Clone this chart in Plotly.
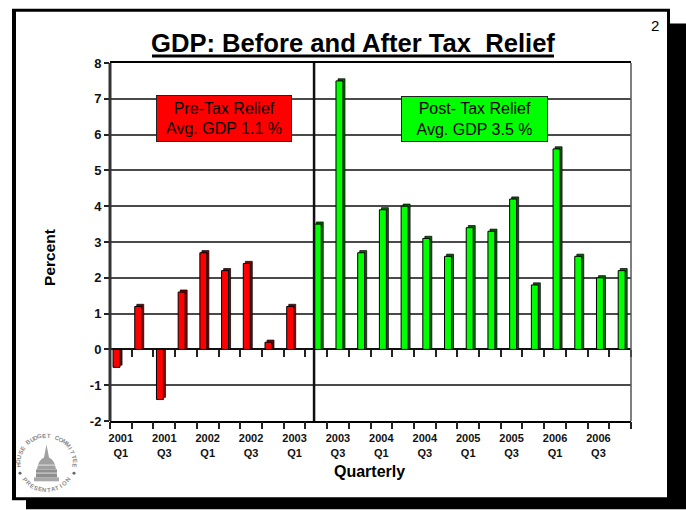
import math
import plotly.graph_objects as go

# ---- data ----
quarters = ["2001 Q1","2001 Q2","2001 Q3","2001 Q4","2002 Q1","2002 Q2","2002 Q3","2002 Q4",
            "2003 Q1","2003 Q2","2003 Q3","2003 Q4","2004 Q1","2004 Q2","2004 Q3","2004 Q4",
            "2005 Q1","2005 Q2","2005 Q3","2005 Q4","2006 Q1","2006 Q2","2006 Q3","2006 Q4"]
pre_tax = [-0.5, 1.2, -1.4, 1.6, 2.7, 2.2, 2.4, 0.2, 1.2]
post_tax = [3.5, 7.5, 2.7, 3.9, 4.0, 3.1, 2.6, 3.4, 3.3, 4.2, 1.8, 5.6, 2.6, 2.0, 2.2]
tick_labels = ["2001<br>Q1","2001<br>Q3","2002<br>Q1","2002<br>Q3","2003<br>Q1","2003<br>Q3",
               "2004<br>Q1","2004<br>Q3","2005<br>Q1","2005<br>Q3","2006<br>Q1","2006<br>Q3"]
y_ticks = [-2, -1, 0, 1, 2, 3, 4, 5, 6, 7, 8]
y_labels = ["-2", "-1", "0", "1", "2", "3", "4", "5", "6", "7", "8"]

W, H = 686, 510
L, R, T, B = 110, 631, 62.5, 421.5
FONT = "Liberation Sans"
px = lambda x: (x - L) / (R - L)
py = lambda y: (B - y) / (B - T)

x_pre = list(range(len(pre_tax)))
x_post = list(range(len(pre_tax), len(quarters)))
BW, DEPTH_X, DEPTH_Y = 0.32, 0.095, 0.06


def bars(x, v, front, side, off):
    return [
        go.Bar(x=x, y=[a + DEPTH_Y for a in v], width=BW, offset=off + DEPTH_X,
               marker=dict(color=side, line=dict(color="black", width=0.7)),
               hoverinfo="skip", showlegend=False),
        go.Bar(x=x, y=v, width=BW, offset=off,
               marker=dict(color=front, line=dict(color="black", width=1)),
               customdata=[quarters[i] for i in x], name="",
               hovertemplate="%{customdata}: %{y}%", showlegend=False),
    ]


fig = go.Figure()
for t in bars(x_pre, pre_tax, "#ff0000", "#7c0000", -BW - 0.04) + bars(x_post, post_tax, "#00ff00", "#006400", -0.09):
    fig.add_trace(t)
for ax in ("x2", "x3"):
    fig.add_trace(go.Scatter(x=[None], y=[None], xaxis=ax, showlegend=False, hoverinfo="skip"))

boundaries = [i - 0.5 for i in range(len(quarters) + 1)]
xr = [-0.5, len(quarters) - 0.5]
tick_axis = dict(range=xr, overlaying="x", anchor="free", tickmode="array", tickvals=boundaries,
                 ticktext=[""] * len(boundaries), ticks="outside", ticklen=7, tickwidth=1.5,
                 tickcolor="#222", showgrid=False, zeroline=False, showline=False, side="bottom")


def conv(path):
    out, isx = [], True
    for t in path.split():
        if t.isalpha():
            out.append(t)
            isx = True
        else:
            out.append(f"{px(float(t)):.4f}" if isx else f"{py(float(t)):.4f}")
            isx = not isx
    return " ".join(out)


shapes = [
    dict(type="rect", xref="paper", yref="paper", x0=px(26), x1=px(686), y0=py(510), y1=py(23),
         fillcolor="black", line_width=0, layer="below"),
    dict(type="rect", xref="paper", yref="paper", x0=px(12), x1=px(670), y0=py(501), y1=py(8),
         fillcolor="black", line_width=0, layer="below"),
    dict(type="rect", xref="paper", yref="paper", x0=px(16), x1=px(667), y0=py(498), y1=py(11),
         fillcolor="white", line_width=0, layer="below"),
    dict(type="line", xref="paper", yref="paper", x0=px(152), x1=px(554), y0=py(55.5), y1=py(55.5),
         line=dict(color="black", width=3)),
    dict(type="line", xref="paper", yref="paper", x0=0, x1=0, y0=0, y1=1, line=dict(color="#333", width=3)),
    dict(type="line", xref="paper", yref="paper", x0=1, x1=1, y0=0, y1=1, line=dict(color="#555", width=1.5)),
    dict(type="line", xref="x", yref="paper", x0=8.9, x1=8.9, y0=0, y1=1, line=dict(color="#111", width=2.5)),
]

# seal: a small grey capitol
seal = [
    ("M 34 482 L 59 482 L 59 478 L 34 478 Z", "#a8a8a8"),
    ("M 36 478 L 36 470 L 57 470 L 57 478 Z", "#8f8f8f"),
    ("M 37 470 Q 38 461 44 458 L 46.5 445 L 49 458 Q 55 461 56 470 Z", "#a0a0a0"),
    ("M 38 465 L 55 465 L 55 466.5 L 38 466.5 Z", "#d0d0d0"),
    ("M 36 473 L 57 473 L 57 474.5 L 36 474.5 Z", "#c4c4c4"),
]
for p, c in seal:
    shapes.append(dict(type="path", xref="paper", yref="paper", layer="below", path=conv(p),
                       fillcolor=c, line_width=0))
for cx in (20, 74):
    shapes.append(dict(type="circle", xref="paper", yref="paper", x0=px(cx - 1.5), x1=px(cx + 1.5),
                       y0=py(474 + 1.5), y1=py(474 - 1.5), fillcolor="#666", line_width=0, layer="below"))


def note(text, x, y, size, bold=False, **kw):
    return dict(text=f"<b>{text}</b>" if bold else text, xref="paper", yref="paper", x=px(x), y=py(y),
                showarrow=False, xanchor="center", yanchor="middle",
                font=dict(family=FONT, size=size, color="black"), **kw)


annotations = [
    note("GDP: Before and After Tax  Relief", 353, 42, 25.6, bold=True),
    note("2", 655, 25, 15),
    note("Percent", 50, 258, 15.5, bold=True, textangle=-90),
    note("Quarterly", 369, 472, 16, bold=True),
    note("Pre-Tax Relief<br>Avg. GDP 1.1 %", 224, 118.5, 16, bgcolor="#ff0000", bordercolor="#222",
         borderwidth=1, width=132, height=43),
    note("Post- Tax Relief<br>Avg. GDP 3.5 %", 474.5, 119, 16, bgcolor="#00ff00", bordercolor="#222",
         borderwidth=1, width=143, height=42),
]


def arc(text, a0, a1, r, cx=46.5, cy=464, flip=False):
    n = len(text)
    for i, ch in enumerate(text):
        a = math.radians(a0 + (a1 - a0) * i / (n - 1))
        x, y = cx + r * math.sin(a), cy - r * math.cos(a)
        rot = math.degrees(a) + (180 if flip else 0)
        d = note(ch, x, y, 6, bold=True, textangle=rot)
        d["font"]["color"] = "#8a8a8a"
        annotations.append(d)


arc("HOUSE BUDGET COMMITTEE", -95, 95, 28)
arc("PRESENTATION", 232, 128, 27, flip=True)

fig.update_layout(
    width=W, height=H, autosize=False,
    margin=dict(l=L, r=W - R, t=T, b=H - B, pad=0),
    paper_bgcolor="white", plot_bgcolor="rgba(0,0,0,0)", barmode="overlay",
    font=dict(family=FONT, color="black"), showlegend=False,
    xaxis=dict(range=xr, tickmode="array", tickvals=list(range(0, 24, 2)), ticktext=tick_labels,
               ticks="", showgrid=False, zeroline=False, showline=True, linecolor="black", linewidth=2,
               mirror=True, ticklabelstandoff=6, tickangle=0,
               tickfont=dict(family=FONT, size=11, weight="bold", color="#111")),
    xaxis2=dict(tick_axis, position=0),
    xaxis3=dict(tick_axis, position=0.2),
    yaxis=dict(range=[-2, 8], tickmode="array", tickvals=y_ticks, ticktext=y_labels, ticks="outside", ticklen=5,
               tickwidth=1.5, tickcolor="#222", showgrid=True, gridcolor="#4a4a4a", gridwidth=1.5,
               zeroline=True, zerolinecolor="#111", zerolinewidth=2, showline=False,
               tickfont=dict(family=FONT, size=13, weight="bold", color="#111")),
    shapes=shapes, annotations=annotations,
)

fig.write_html("out.html", post_script="document.body.style.margin='0';document.body.style.overflow='hidden';",
               config=dict(displayModeBar=False))
